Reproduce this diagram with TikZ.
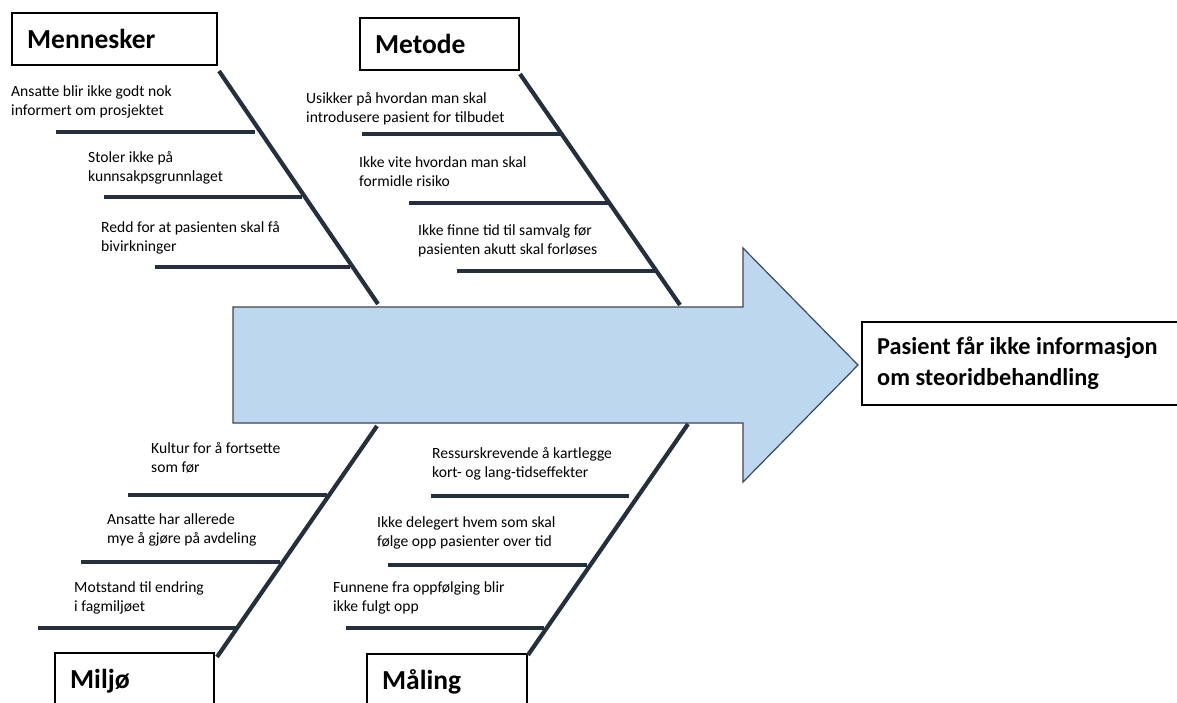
\documentclass[tikz,border=0pt]{standalone}
\usepackage{fontspec}
\setmainfont{Carlito}
\definecolor{bonecol}{RGB}{37,47,61}
\definecolor{arrowfill}{RGB}{189,215,238}
\definecolor{arrowline}{RGB}{60,72,86}
\tikzset{
  bone/.style={draw=bonecol, line width=4.2pt},
  rib/.style={draw=bonecol, line width=4pt},
  causetext/.style={inner sep=0pt, anchor=base west, font=\fontsize{15.6}{19.5}\selectfont},
  catbox/.style={draw=black, line width=1.6pt, fill=white},
  cattext/.style={inner sep=0pt, anchor=base west, font=\fontsize{27.5}{30}\selectfont\bfseries},
  resbox/.style={draw=black, line width=1.6pt, fill=white},
  restext/.style={inner sep=0pt, anchor=base west, font=\fontsize{24.3}{31}\selectfont\bfseries},
}
\newcommand{\twolines}[2]{\vtop{\hbox{#1}\hbox{#2}}}
\begin{document}
\begin{tikzpicture}[x=1pt,y=1pt]
\useasboundingbox (0,0) rectangle (1177,-702);
\fill[white] (0,0) rectangle (1177,-702);

% main arrow
\draw[fill=arrowfill, draw=arrowline, line width=1.2pt]
  (233,-307) -- (743,-307) -- (743,-248) -- (858,-365) -- (743,-482)
  -- (743,-423) -- (233,-423) -- cycle;
\coordinate (spine) at (858,-365);

% result box
\draw[resbox] (862,-322) rectangle (1180,-405);
\node[restext] (result) at (877,-354) {\twolines{Pasient får ikke informasjon}{om steoridbehandling}};

% category boxes
\draw[catbox] (12,-13) rectangle (217,-65);
\node[cattext] (mennesker) at (27,-48) {Mennesker};
\draw[catbox] (360,-18) rectangle (519,-70);
\node[cattext] (metode) at (375,-53) {Metode};
\draw[catbox] (55,-653) rectangle (214,-720);
\node[cattext] (miljo) at (70,-688) {Miljø};
\draw[catbox] (367,-654) rectangle (527,-720);
\node[cattext] (maling) at (382,-689) {Måling};

% bones
\coordinate (mA) at (219,-71);  \coordinate (mB) at (378,-304);
\coordinate (tA) at (520,-74);  \coordinate (tB) at (680,-305);
\coordinate (lA) at (377,-426); \coordinate (lB) at (217,-657);
\coordinate (gA) at (688,-424); \coordinate (gB) at (528,-655);
\draw[bone] (mA) -- (mB);
\draw[bone] (tA) -- (tB);
\draw[bone] (lA) -- (lB);
\draw[bone] (gA) -- (gB);

% ribs Mennesker
\coordinate (m1a) at (56,-132);  \coordinate (m1b) at (255,-132);
\coordinate (m2a) at (104,-197); \coordinate (m2b) at (302,-197);
\coordinate (m3a) at (155,-267); \coordinate (m3b) at (350,-267);
\draw[rib] (m1a) -- (m1b);
\draw[rib] (m2a) -- (m2b);
\draw[rib] (m3a) -- (m3b);
% ribs Metode
\coordinate (t1a) at (362,-134); \coordinate (t1b) at (561,-134);
\coordinate (t2a) at (409,-203); \coordinate (t2b) at (608,-203);
\coordinate (t3a) at (457,-271); \coordinate (t3b) at (655,-271);
\draw[rib] (t1a) -- (t1b);
\draw[rib] (t2a) -- (t2b);
\draw[rib] (t3a) -- (t3b);
% ribs Miljo
\coordinate (l1a) at (128,-495); \coordinate (l1b) at (327,-495);
\coordinate (l2a) at (81,-562);  \coordinate (l2b) at (280,-562);
\coordinate (l3a) at (38,-628);  \coordinate (l3b) at (236,-628);
\draw[rib] (l1a) -- (l1b);
\draw[rib] (l2a) -- (l2b);
\draw[rib] (l3a) -- (l3b);
% ribs Maling
\coordinate (g1a) at (431,-496); \coordinate (g1b) at (629,-496);
\coordinate (g2a) at (388,-565); \coordinate (g2b) at (587,-565);
\coordinate (g3a) at (346,-628); \coordinate (g3b) at (544,-628);
\draw[rib] (g1a) -- (g1b);
\draw[rib] (g2a) -- (g2b);
\draw[rib] (g3a) -- (g3b);

% cause texts
\node[causetext] (c11) at (11,-96)  {\twolines{Ansatte blir ikke godt nok}{informert om prosjektet}};
\node[causetext] (c12) at (88,-162) {\twolines{Stoler ikke på}{kunnsakpsgrunnlaget}};
\node[causetext] (c13) at (101,-232) {\twolines{Redd for at pasienten skal få}{bivirkninger}};

\node[causetext] (c21) at (306,-103) {\twolines{Usikker på hvordan man skal}{introdusere pasient for tilbudet}};
\node[causetext] (c22) at (359,-167) {\twolines{Ikke vite hvordan man skal}{formidle risiko}};
\node[causetext] (c23) at (418,-235) {\twolines{Ikke finne tid til samvalg før}{pasienten akutt skal forløses}};

\node[causetext] (c31) at (151,-453) {\twolines{Kultur for å fortsette}{som før}};
\node[causetext] (c32) at (107,-524) {\twolines{Ansatte har allerede}{mye å gjøre på avdeling}};
\node[causetext] (c33) at (74,-592)  {\twolines{Motstand til endring}{i fagmiljøet}};

\node[causetext] (c41) at (432,-458) {\twolines{Ressurskrevende å kartlegge}{kort- og lang-tidseffekter}};
\node[causetext] (c42) at (377,-527) {\twolines{Ikke delegert hvem som skal}{følge opp pasienter over tid}};
\node[causetext] (c43) at (333,-592) {\twolines{Funnene fra oppfølging blir}{ikke fulgt opp}};
\end{tikzpicture}
\end{document}
